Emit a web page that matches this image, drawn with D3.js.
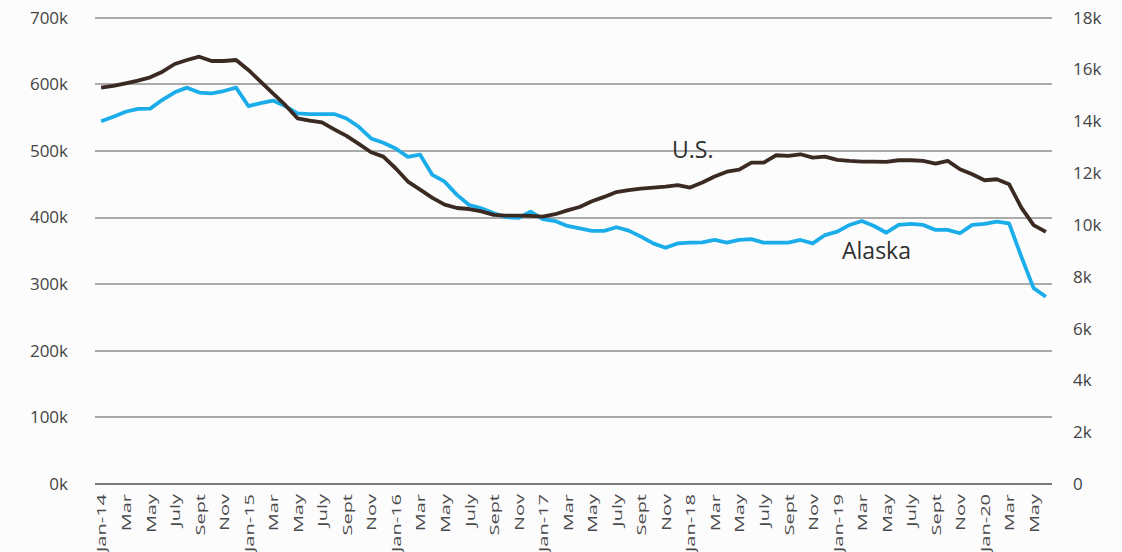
<html>
  <head>
    <meta charset="utf-8">
    <title>U.S. and Alaska</title>
    <style>
      body { margin: 0; background: #fcfcfd; }
      .axis text { font-family: "Open Sans", sans-serif; fill: #444; }
      .axis path, .axis line { display: none; }
      .grid line { stroke: #aaa; stroke-width: 2; shape-rendering: crispEdges; }
      .lbl { font-family: "Open Sans", sans-serif; font-size: 23px; fill: #2f2f2f; }
    </style>
  </head>
  <body>
    <script src="https://cdn.jsdelivr.net/npm/d3@7/dist/d3.min.js"></script>
    <script>
    var width = 1122, height = 552;

    // month labels (every other month is shown)
    var monthNames = ["Jan", "Feb", "Mar", "Apr", "May", "June", "July", "Aug", "Sept", "Oct", "Nov", "Dec"];
    var years = ["14", "15", "16", "17", "18", "19", "20"];
    var lastMonth = 5; // June 2020

    var leftTicks = [0, 100, 200, 300, 400, 500, 600, 700];
    var rightTicks = [0, 2, 4, 6, 8, 10, 12, 14, 16, 18];

    // U.S. (left axis, thousands)
    var usValues = [
      595, 597.5, 601.5, 605.5, 610.5, 619, 630.5, 636.5, 641.5, 635, 635, 636.5,
      621.5, 604, 586.5, 569, 549, 545.5, 543, 532.5, 522.5, 510.5, 498, 491.5,
      474, 454, 442, 429.6, 419.4, 414.3, 412.8, 409.2, 404, 403, 403, 402.6,
      401.5, 405, 410.7, 415.8, 424.5, 431, 438.3, 441.3, 443.4, 445, 446.4, 448.5,
      445, 452.6, 461.7, 468.9, 472, 482.5, 482.5, 493.5, 492.5, 495, 490, 491.5,
      486.5, 485, 484, 484, 483.5, 486, 486, 485, 481, 485, 472.5, 465,
      456, 457.5, 450, 415, 388.5, 378.5
    ];

    // Alaska (right axis, thousands)
    var akValues = [
      14.0, 14.18, 14.37, 14.48, 14.49, 14.83, 15.12, 15.30, 15.11, 15.08, 15.17, 15.30,
      14.59, 14.70, 14.80, 14.59, 14.31, 14.28, 14.28, 14.28, 14.11, 13.79, 13.34, 13.17,
      12.95, 12.63, 12.71, 11.93, 11.67, 11.16, 10.77, 10.64, 10.45, 10.30, 10.27, 10.51,
      10.22, 10.15, 9.96, 9.87, 9.77, 9.77, 9.91, 9.78, 9.55, 9.29, 9.12, 9.29,
      9.32, 9.33, 9.42, 9.32, 9.42, 9.45, 9.32, 9.32, 9.32, 9.42, 9.29, 9.61,
      9.74, 10.0, 10.15, 9.96, 9.70, 10.0, 10.04, 10.0, 9.81, 9.81, 9.68, 10.0,
      10.04, 10.13, 10.06, 8.78, 7.56, 7.23
    ];

    var months = [];
    years.forEach(function(y, yi) {
      monthNames.forEach(function(m, mi) {
        if (yi === years.length - 1 && mi > lastMonth) return;
        months.push({ key: m + "-" + y, label: mi === 0 ? m + "-" + y : m, show: mi % 2 === 0 });
      });
    });

    var svg = d3.select('body')
      .append('svg')
      .attr('width', width).attr('height', height);

    var x = d3.scalePoint()
      .domain(months.map(d => d.key))
      .range([95, 1052])
      .padding(0.5);

    var yLeft = d3.scaleLinear().domain([0, 700]).range([484, 17.7]);
    var yRight = d3.scaleLinear().domain([0, 18]).range([484, 17.7]);

    // gridlines
    svg.append('g').attr('class', 'grid')
      .selectAll('line')
      .data(leftTicks)
      .enter()
      .append('line')
      .attr('x1', 95).attr('x2', 1052)
      .attr('y1', d => Math.round(yLeft(d)))
      .attr('y2', d => Math.round(yLeft(d)))
      .style('stroke', d => d === 0 ? '#7a7a7a' : null)
      .style('stroke-width', d => d === 0 ? 2.5 : null);

    // left axis
    svg.append('g')
      .attr('class', 'axis')
      .attr('transform', 'translate(95,0)')
      .call(d3.axisLeft(yLeft).tickValues(leftTicks).tickSize(0).tickPadding(27)
        .tickFormat(d => d + 'k'))
      .selectAll('text').style('font-size', '17px');

    // right axis
    svg.append('g')
      .attr('class', 'axis')
      .attr('transform', 'translate(1052,0)')
      .call(d3.axisRight(yRight).tickValues(rightTicks).tickSize(0).tickPadding(21)
        .tickFormat(d => d === 0 ? '0' : d + 'k'))
      .selectAll('text').style('font-size', '17px');

    // bottom axis, rotated and condensed labels
    var xAxis = d3.axisBottom(x)
      .tickValues(months.filter(d => d.show).map(d => d.key))
      .tickSize(0)
      .tickFormat(k => months.find(d => d.key === k).label);

    svg.append('g')
      .attr('class', 'axis')
      .attr('transform', 'translate(0,494)')
      .call(xAxis)
      .selectAll('text')
      .style('font-size', '20px')
      .style('fill', '#4a4a4a')
      .attr('text-anchor', 'end')
      .attr('dy', null)
      .attr('y', 0)
      .attr('x', 0)
      .attr('dominant-baseline', 'central')
      .attr('transform', 'rotate(-90) scale(1,0.62)');

    var keys = months.map(d => d.key);

    var lineUS = d3.line()
      .x((d, i) => x(keys[i]))
      .y(d => yLeft(d));

    var lineAK = d3.line()
      .x((d, i) => x(keys[i]))
      .y(d => yRight(d));

    svg.append('path')
      .datum(akValues)
      .attr('d', lineAK)
      .attr('fill', 'none')
      .attr('stroke', '#1badea')
      .attr('stroke-width', 3.8)
      .attr('stroke-linejoin', 'round');

    svg.append('path')
      .datum(usValues)
      .attr('d', lineUS)
      .attr('fill', 'none')
      .attr('stroke', '#3b2a22')
      .attr('stroke-width', 3.8)
      .attr('stroke-linejoin', 'round');

    // series labels
    svg.append('text').attr('class', 'lbl')
      .attr('x', 672).attr('y', 158).text('U.S.');
    svg.append('text').attr('class', 'lbl')
      .attr('x', 842).attr('y', 259).text('Alaska');
    </script>
  </body>
</html>
